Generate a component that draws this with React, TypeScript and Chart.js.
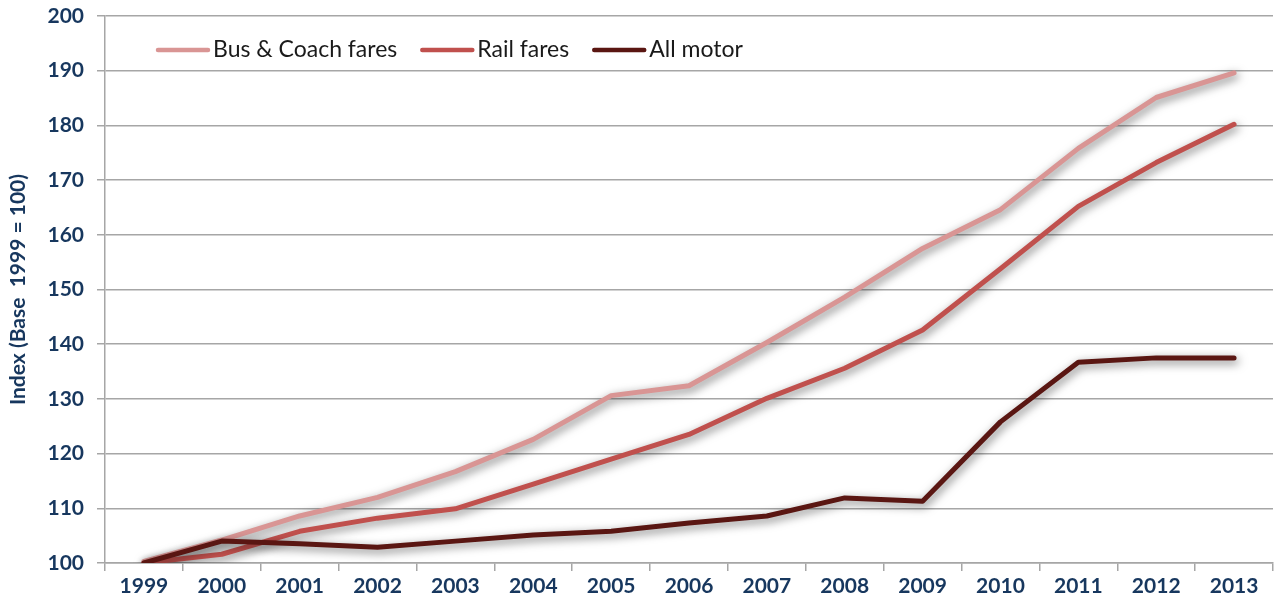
import { useEffect, useRef } from "react";
import { Chart, registerables } from "chart.js";

Chart.register(...registerables);

const years = ["1999", "2000", "2001", "2002", "2003", "2004", "2005", "2006", "2007", "2008", "2009", "2010", "2011", "2012", "2013"];
const busCoach = [100.3, 104.2, 108.6, 112.0, 116.7, 122.6, 130.6, 132.4, 140.3, 148.6, 157.5, 164.6, 175.8, 185.1, 189.6];
const rail = [100, 101.6, 105.8, 108.2, 109.9, 114.4, 119.0, 123.5, 130.1, 135.6, 142.6, 153.8, 165.2, 173.2, 180.2];
const allMotor = [100, 104.0, 103.5, 102.9, 104.0, 105.1, 105.8, 107.3, 108.6, 111.9, 111.3, 125.8, 136.7, 137.5, 137.5];
const yMin = 100;
const yMax = 200;
const yStep = 10;

const seriesNames = ["Bus & Coach fares", "Rail fares", "All motor"];
const seriesColors = ["#D99594", "#C0504D", "#5A1612"];

const tickColor = "#17375E";
const gridColor = "#A6A6A6";

export default function App() {
  const ref = useRef<HTMLCanvasElement>(null);

  useEffect(() => {
    document.body.style.margin = "0";
    const shadow = {
      id: "lineShadow",
      beforeDatasetDraw(chart: any) {
        const c = chart.ctx;
        c.save();
        c.shadowColor = "rgba(0,0,0,0.55)";
        c.shadowBlur = 10;
        c.shadowOffsetX = 2;
        c.shadowOffsetY = 3;
      },
      afterDatasetDraw(chart: any) {
        chart.ctx.restore();
      },
    };
    const legend = {
      id: "insideLegend",
      afterDraw(chart: any) {
        const c = chart.ctx;
        c.save();
        c.font = "23px Lato";
        c.textBaseline = "middle";
        let x = 158;
        const y = 50;
        chart.data.datasets.forEach((ds: any) => {
          c.strokeStyle = ds.borderColor;
          c.lineWidth = 4.5;
          c.lineCap = "round";
          c.beginPath();
          c.moveTo(x, y);
          c.lineTo(x + 50, y);
          c.stroke();
          x += 55;
          c.fillStyle = "#1a1a1a";
          c.fillText(ds.label, x, y);
          x += c.measureText(ds.label).width + 25;
        });
        c.restore();
      },
    };

    const mk = (i: number, data: number[], order: number) => ({
      label: seriesNames[i],
      data,
      borderColor: seriesColors[i],
      backgroundColor: seriesColors[i],
      borderWidth: 5,
      pointRadius: 0,
      tension: 0,
      fill: false,
      borderJoinStyle: "round" as const,
      borderCapStyle: "round" as const,
      order,
    });

    const chart = new Chart(ref.current as HTMLCanvasElement, {
      type: "line",
      data: {
        labels: years,
        datasets: [mk(0, busCoach, 3), mk(1, rail, 2), mk(2, allMotor, 1)],
      },
      options: {
        animation: false,
        responsive: true,
        maintainAspectRatio: false,
        layout: { padding: { top: 16, right: 2, left: 0, bottom: 0 } },
        plugins: {
          legend: { display: false },
          tooltip: { enabled: false },
        },
        scales: {
          x: {
            offset: true,
            grid: {
              offset: true,
              drawOnChartArea: false,
              drawTicks: true,
              tickLength: 8,
              color: gridColor,
              lineWidth: 1.5,
            },
            border: { color: gridColor, width: 1.5 },
            ticks: {
              color: tickColor,
              font: { family: "Lato", size: 21, weight: "bold" },
              padding: 3,
              maxRotation: 0,
              autoSkip: false,
            },
            afterFit(s: any) {
              s.height = 45;
              s.paddingLeft = 0;
              s.paddingRight = 0;
            },
          },
          y: {
            min: yMin,
            max: yMax,
            grid: {
              color: gridColor,
              lineWidth: 1.5,
              tickLength: 8,
            },
            border: { color: gridColor, width: 1.5 },
            ticks: {
              stepSize: yStep,
              color: tickColor,
              font: { family: "Lato", size: 21, weight: "bold" },
              padding: 13,
            },
            title: {
              display: true,
              text: "Index (Base  1999 = 100)",
              color: tickColor,
              font: { family: "Lato", size: 21, weight: "bold" },
              padding: { top: 6, bottom: 0 },
            },
            afterFit(s: any) {
              s.width = 105;
              s.paddingTop = 0;
              s.paddingBottom = 0;
            },
          },
        },
      },
      plugins: [shadow, legend],
    });
    return () => chart.destroy();
  }, []);

  return (
    <div style={{ width: 1275, height: 608, position: "relative", background: "#fff" }}>
      <canvas ref={ref} />
    </div>
  );
}
